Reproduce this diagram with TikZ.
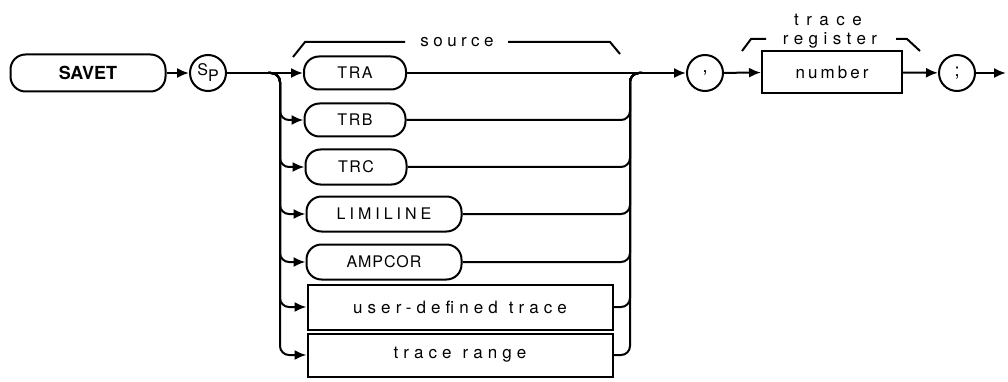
\documentclass[tikz,border=0pt]{standalone}
\usepackage{fontspec}
\newfontfamily\hpfont{TeX Gyre Heros}
\usetikzlibrary{arrows.meta}

\tikzset{
  syn/.style={line width=2pt},
  keybox/.style={draw, syn, rounded corners=15pt, inner sep=0pt},
  parbox/.style={draw, syn, inner sep=0pt},
  litcirc/.style={draw, syn, circle, minimum size=36pt, inner sep=0pt},
  lbl/.style={font={\hpfont\fontsize{17}{20}\selectfont\addfontfeature{LetterSpace=#1}}},
  lbl/.default=30,
  capslbl/.style={font={\hpfont\fontsize{16}{19}\selectfont\addfontfeature{LetterSpace=#1}}},
  capslbl/.default=10
}
\newcommand{\wgap}{\hspace{11pt}}

\begin{document}
\begin{tikzpicture}[x=1pt, y=-1pt, >={Latex[length=12pt, width=10pt]}]
  \useasboundingbox (0,0) rectangle (1008,382);
  % command and prefix
  \node[keybox, minimum width=155, minimum height=37, font=\hpfont\bfseries\fontsize{18}{20}\selectfont] (savet) at (88,73) {SAVET};
  \node[litcirc, font=\hpfont\fontsize{16}{18}\selectfont] (sp) at (208,73) {S\raisebox{-6pt}{P}};
  % source choices
  \node[keybox, capslbl, minimum width=102, minimum height=33] (tra) at (355,73) {TRA};
  \node[keybox, capslbl, minimum width=101, minimum height=33] (trb) at (355,120) {TRB};
  \node[keybox, capslbl, minimum width=101, minimum height=35] (trc) at (356,167) {TRC};
  \node[keybox, capslbl=25, minimum width=155, minimum height=35] (limi) at (384,214) {LIMILINE};
  \node[keybox, capslbl=6, minimum width=155, minimum height=35] (ampcor) at (384,262) {AMPCOR};
  \node[parbox, lbl, minimum width=305, minimum height=45] (udt) at (460,307) {user-defined\wgap trace};
  \node[parbox, lbl, minimum width=305, minimum height=43] (rng) at (460,355) {trace\wgap range};
  % register part
  \node[litcirc, font=\hpfont\fontsize{18}{20}\selectfont] (comma) at (705,73) {,};
  \node[parbox, lbl=18, minimum width=140, minimum height=42] (num) at (832,72) {number};
  \node[litcirc, font=\hpfont\fontsize{18}{20}\selectfont] (semi) at (957,73) {;};
  % labels over the groups
  \node[lbl=26] (srclbl) at (457,42) {source};
  \draw[syn] (293,57) -- (305,42) -- (405,42);
  \draw[syn] (508,42) -- (610,42) -- (620,54);
  \node[lbl=44] (trclbl) at (828,20) {trace};
  \node[lbl=32] (reglbl) at (830,40) {register};
  \draw[syn] (742,51) -- (751,39) -- (766,39);
  \draw[syn] (896,39) -- (907,39) -- (920,51);
  % connectors
  \coordinate (fork) at (268,73);
  \coordinate (split) at (280,73);
  \coordinate (join) at (630,73);
  \coordinate (merge) at (642,73);
  \coordinate (exit) at (1006,73);
  \draw[syn, ->] (savet) -- (sp);
  \draw[syn, ->] (sp) -- (tra);
  \foreach \b in {trb,trc,limi,ampcor,udt,rng}
    \draw[syn, ->, rounded corners=9pt] (fork) -- (split) |- (\b.west);
  \draw[syn, ->] (tra) -- (comma);
  \foreach \b in {trb,trc,limi,ampcor,udt,rng}
    \draw[syn, rounded corners=9pt] (\b.east) -| (join) -- (merge);
  \draw[syn, ->] (comma) -- (num);
  \draw[syn, ->] (num) -- (semi);
  \draw[syn, ->] (semi) -- (exit);
\end{tikzpicture}
\end{document}
